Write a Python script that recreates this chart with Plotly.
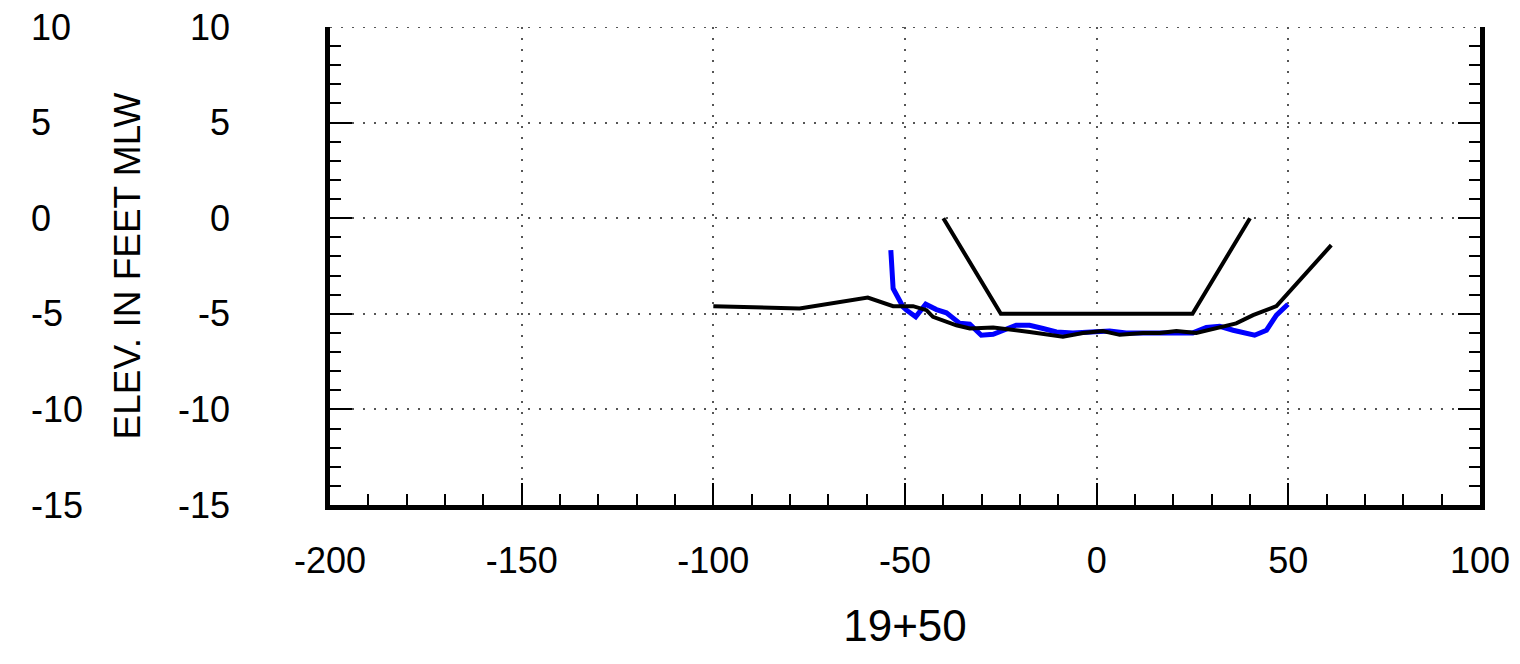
import plotly.graph_objects as go

# Design template (channel cut)
template_x = [-40, -25, 25, 40]
template_y = [0, -5, -5, 0]

# Black survey profile
survey1_x = [-100, -77.5, -59.7, -53.1, -47.9, -44.4, -42.7, -36.6, -33.1, -27.0, -17.5,
             -8.8, -3.6, 1.6, 6.0, 12.1, 16.4, 20.8, 26.0, 31.2, 36.4, 40.8, 46.9, 61.2]
survey1_y = [-4.6, -4.72, -4.15, -4.6, -4.6, -4.81, -5.16, -5.6, -5.77, -5.72, -5.95,
             -6.2, -6.0, -5.9, -6.1, -6.0, -6.0, -5.9, -6.0, -5.77, -5.5, -5.07, -4.6, -1.41]

# Blue survey profile
survey2_x = [-53.7, -53.1, -50.5, -49.6, -47.2, -44.6, -41.8, -39.2, -35.7, -33.1, -30.1,
             -27.0, -21.0, -17.5, -14.0, -10.5, -6.2, -1.8, 3.4, 7.7, 14.7, 19.9, 25.1,
             28.6, 32.1, 35.6, 38.2, 41.2, 44.3, 46.9, 49.9]
survey2_y = [-1.67, -3.68, -4.64, -4.81, -5.16, -4.5, -4.78, -4.95, -5.5, -5.54, -6.12,
             -6.07, -5.6, -5.6, -5.77, -5.95, -6.0, -5.95, -5.9, -6.0, -6.0, -5.95, -6.0,
             -5.72, -5.65, -5.86, -6.0, -6.12, -5.86, -5.07, -4.5]

x_range = [-200, 100]
y_range = [-15, 10]
x_tickvals = [-200, -150, -100, -50, 0, 50, 100]
x_ticktext = ["-200", "-150", "-100", "-50", "0", "50", "100"]
y_tickvals = [-15, -10, -5, 0, 5, 10]
y_ticktext = ["-15", "-10", "-5", "0", "5", "10"]
x_title = "19+50"
y_title = "ELEV. IN FEET MLW"

FONT = "Liberation Sans, Arial, sans-serif"
GRID = dict(showgrid=True, gridcolor="#555555", griddash="2px,9px", gridwidth=2)

fig = go.Figure()
fig.add_trace(go.Scatter(x=survey2_x, y=survey2_y, mode="lines",
                         line=dict(color="#0000FF", width=5), showlegend=False))
fig.add_trace(go.Scatter(x=survey1_x, y=survey1_y, mode="lines",
                         line=dict(color="black", width=4), showlegend=False))
fig.add_trace(go.Scatter(x=template_x, y=template_y, mode="lines",
                         line=dict(color="black", width=4), showlegend=False))
# invisible trace to activate the secondary label axis
fig.add_trace(go.Scatter(x=[None], y=[None], yaxis="y2", showlegend=False))

W, H = 1504, 648
L, R, T, B = 0, 32, 19, 151
plot_w = W - L - R

# dotted gridline along the top edge (hidden by plotly at the range edge)
fig.add_shape(type="line", xref="x domain", yref="y", x0=0, x1=1,
              y0=y_range[1], y1=y_range[1],
              line=dict(color="#555555", width=2, dash="2px,9px"), layer="below")

fig.update_layout(
    width=W, height=H,
    margin=dict(l=L, r=R, t=T, b=B, autoexpand=False),
    paper_bgcolor="white", plot_bgcolor="white",
    font=dict(family=FONT, color="black", size=36),
    xaxis=dict(
        domain=[322 / plot_w, 1],
        range=x_range, tickmode="array", tickvals=x_tickvals, ticktext=x_ticktext,
        showline=True, linewidth=4.5, linecolor="black", mirror=False,
        ticks="inside", ticklen=22, tickwidth=2, tickcolor="black",
        minor=dict(dtick=10, tick0=0, ticks="inside", ticklen=11, tickwidth=2,
                   tickcolor="black", showgrid=False),
        zeroline=False,
        tickfont=dict(size=36, family=FONT),
        ticklabelstandoff=20, ticklabeloverflow="allow",
        title=dict(text=x_title, font=dict(size=44, family=FONT), standoff=32),
        automargin=False,
        **GRID,
    ),
    yaxis=dict(
        range=y_range, tickmode="array", tickvals=y_tickvals, ticktext=y_ticktext,
        showline=True, linewidth=4.5, linecolor="black", mirror="ticks",
        ticks="inside", ticklen=22, tickwidth=2, tickcolor="black",
        minor=dict(dtick=1, tick0=0, ticks="inside", ticklen=11, tickwidth=2,
                   tickcolor="black", showgrid=False),
        zeroline=False,
        tickfont=dict(size=36, family=FONT),
        ticklabelstandoff=88, ticklabeloverflow="allow",
        title=dict(text=y_title, font=dict(size=37, family=FONT), standoff=28),
        automargin=False,
        **GRID,
    ),
    yaxis2=dict(
        overlaying="y", side="right", anchor="free", position=22 / plot_w,
        range=y_range, tickmode="array", tickvals=y_tickvals, ticktext=y_ticktext,
        showline=False, ticks="", showgrid=False, zeroline=False,
        tickfont=dict(size=36, family=FONT), ticklabeloverflow="allow",
        automargin=False,
    ),
)

fig.write_html("out.html")
